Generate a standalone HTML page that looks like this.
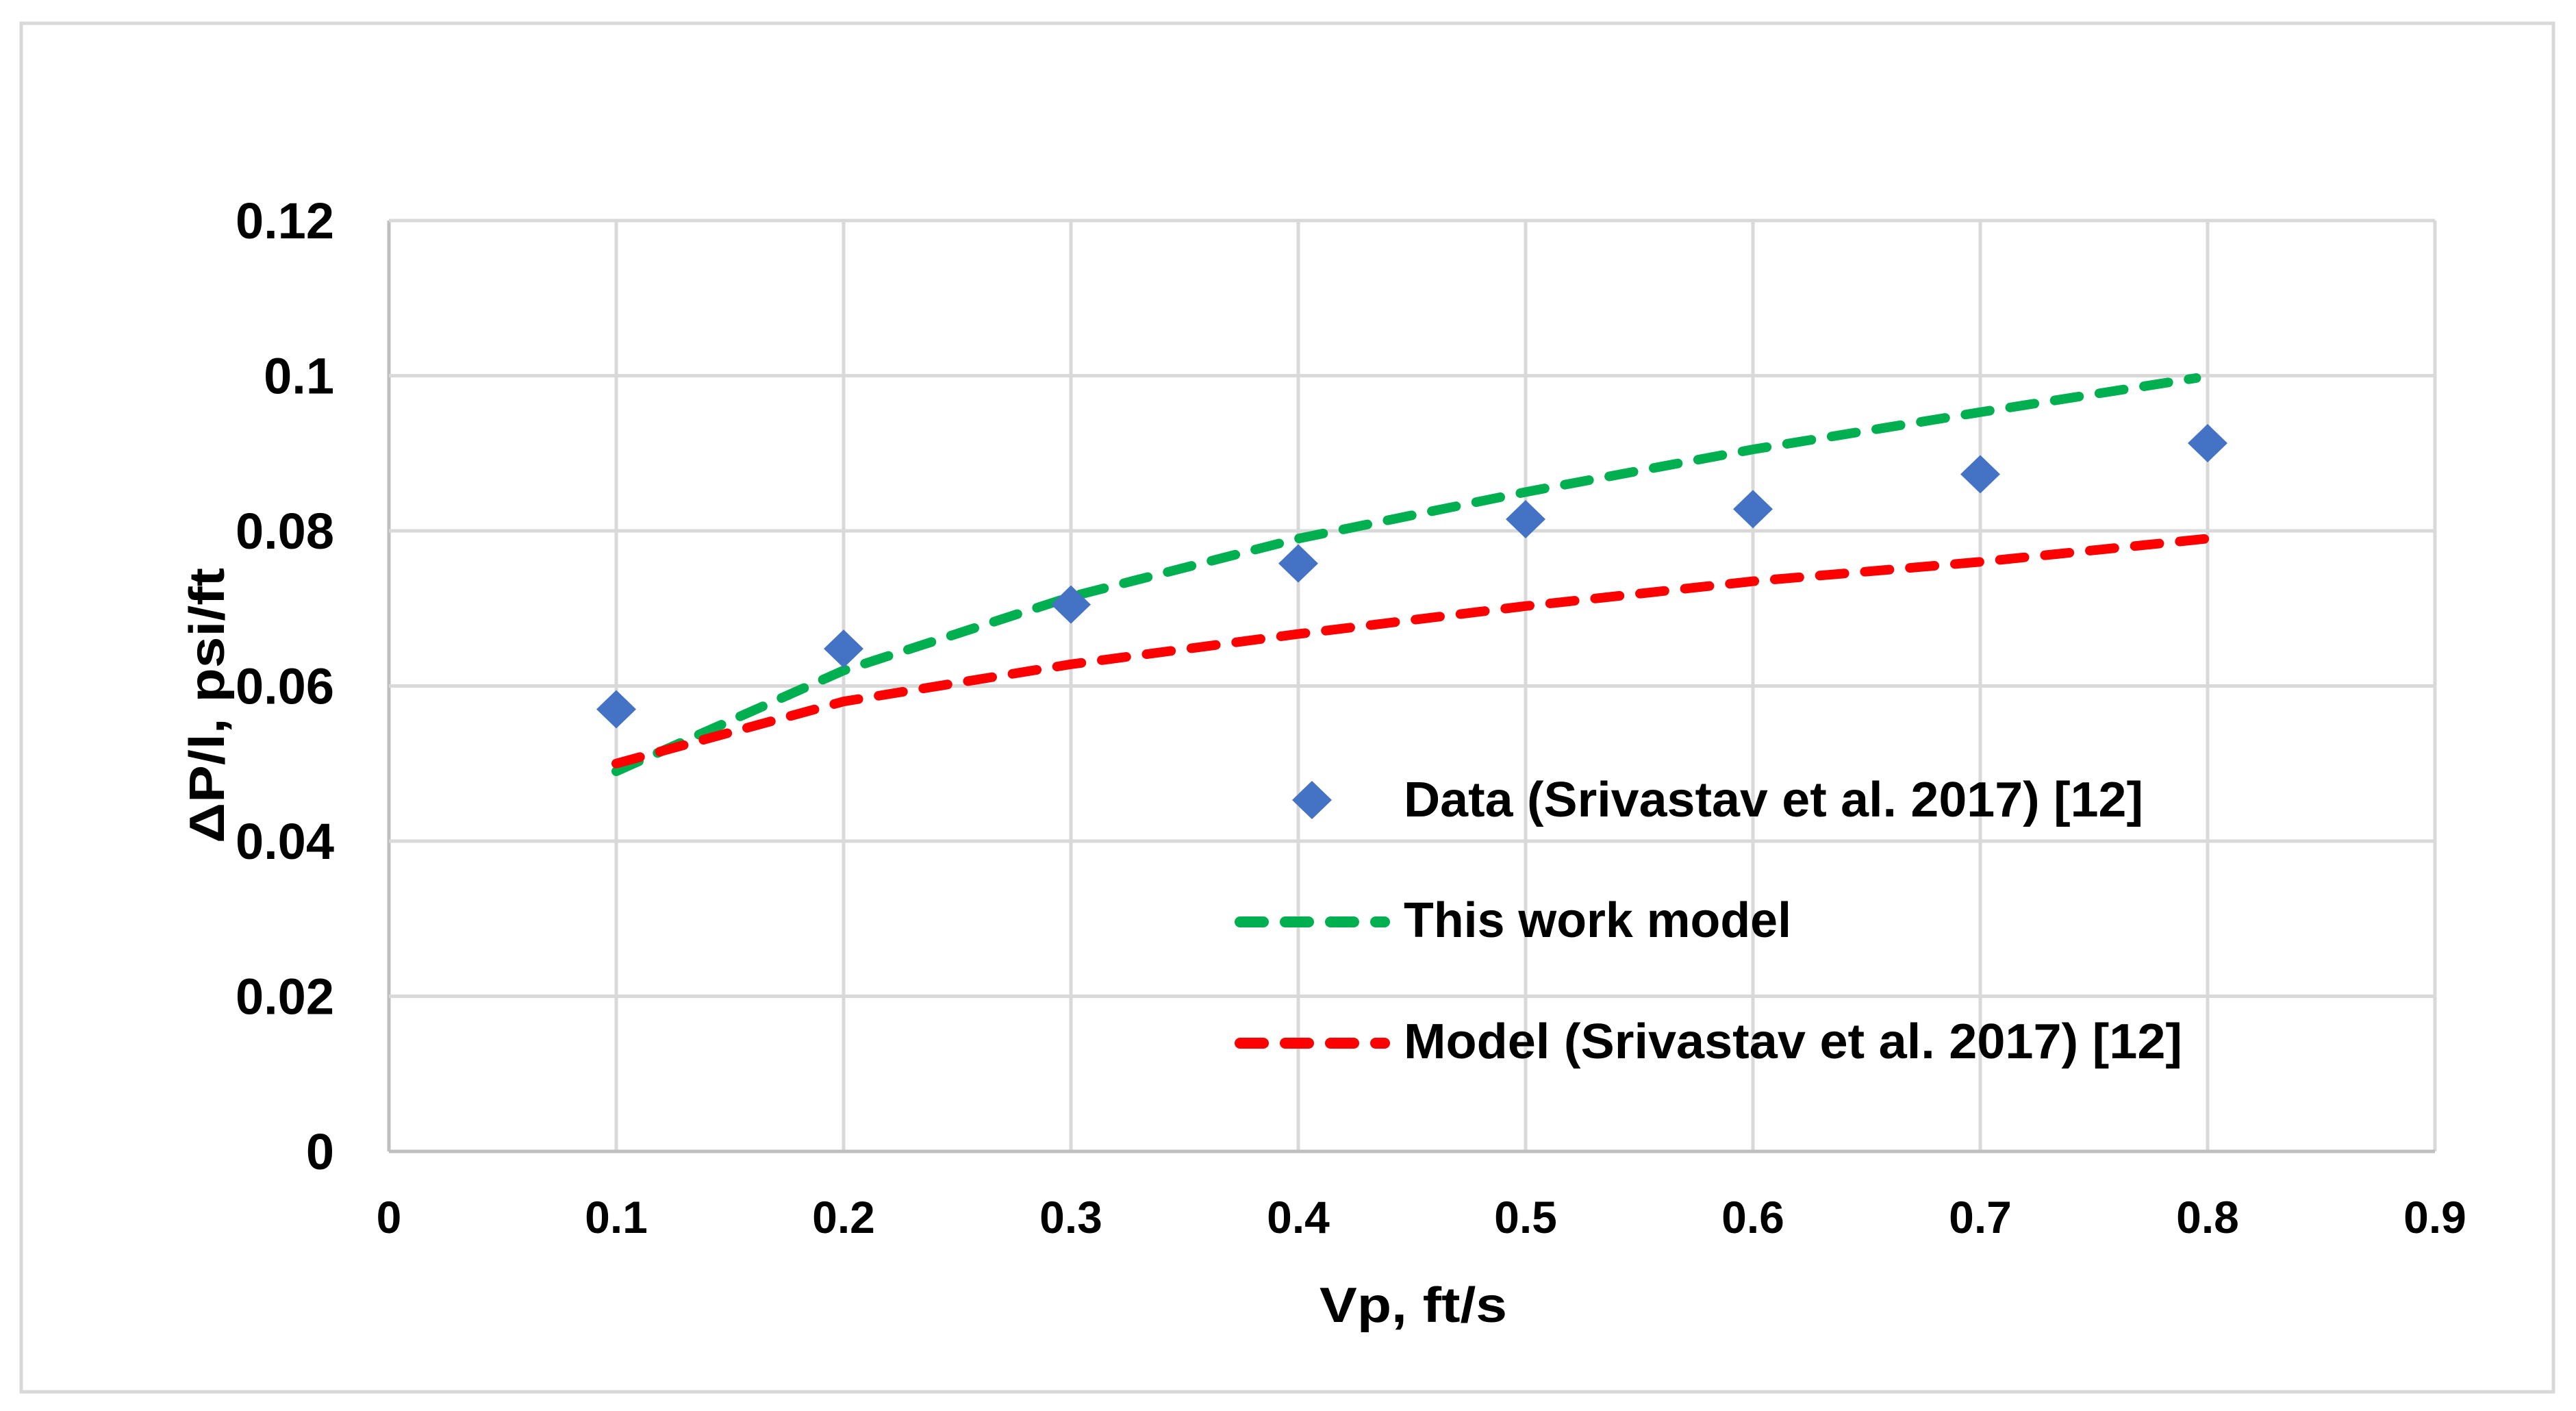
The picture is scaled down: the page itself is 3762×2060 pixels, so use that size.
<!DOCTYPE html>
<html><head><meta charset="utf-8"><style>
html,body{margin:0;padding:0;background:#fff;}
svg{display:block;}
text{font-family:"Liberation Sans",sans-serif;font-weight:bold;fill:#000;}
</style></head><body>
<svg id="chart" width="3762" height="2060" viewBox="0 0 3762 2060" xmlns="http://www.w3.org/2000/svg">
<rect x="31" y="34" width="3698" height="1998" fill="#fff" stroke="#d9d9d9" stroke-width="5"/>
<g id="grid"></g>
<g id="axes"></g>
<g id="series"></g>
<text x="2064" y="1930" font-size="72" text-anchor="middle" textLength="274" lengthAdjust="spacingAndGlyphs">Vp, ft/s</text>
<text transform="translate(327,1030) rotate(-90)" font-size="72" text-anchor="middle" textLength="402" lengthAdjust="spacingAndGlyphs">ΔP/l, psi/ft</text>
<g>
<polygon points="1916,1140 1945,1168 1916,1196 1887,1168" fill="#4472c4"/>
<line x1="1811" y1="1346" x2="2022" y2="1346" stroke="#00b050" stroke-width="16" stroke-linecap="round" stroke-dasharray="34 32"/>
<line x1="1811" y1="1523" x2="2022" y2="1523" stroke="#ff0000" stroke-width="16" stroke-linecap="round" stroke-dasharray="34 32"/>
<text x="2050" y="1192" font-size="72" textLength="1080" lengthAdjust="spacingAndGlyphs">Data (Srivastav et al. 2017) [12]</text>
<text x="2050" y="1368" font-size="72" textLength="566" lengthAdjust="spacingAndGlyphs">This work model</text>
<text x="2050" y="1545" font-size="72" textLength="1137" lengthAdjust="spacingAndGlyphs">Model (Srivastav et al. 2017) [12]</text>
</g>
</svg>
<script>
const xTicks = [0,0.1,0.2,0.3,0.4,0.5,0.6,0.7,0.8,0.9];
const yTicks = [0,0.02,0.04,0.06,0.08,0.1,0.12];
const xTickLabels = ["0","0.1","0.2","0.3","0.4","0.5","0.6","0.7","0.8","0.9"];
const yTickLabels = ["0","0.02","0.04","0.06","0.08","0.1","0.12"];
const dataX = [0.1,0.2,0.3,0.4,0.5,0.6,0.7,0.8];
const dataY = [0.057,0.0648,0.0705,0.0758,0.0815,0.0828,0.0873,0.0913];
const thisWorkX = [0.1,0.2,0.3,0.4,0.5,0.6,0.7,0.795];
const thisWorkY = [0.049,0.062,0.0715,0.079,0.085,0.0905,0.0953,0.0997];
const modelX = [0.1,0.2,0.3,0.4,0.5,0.6,0.7,0.8];
const modelY = [0.050,0.058,0.0628,0.0667,0.0703,0.0735,0.076,0.079];

const NS="http://www.w3.org/2000/svg";
const X0=568,X1=3556,Y0=1681,Y1=322;
function sx(v){return X0+(v-0)/(0.9-0)*(X1-X0);}
function sy(v){return Y0-(v-0)/(0.12-0)*(Y0-Y1);}
function mk(tag,attrs,parent){const e=document.createElementNS(NS,tag);for(const k in attrs)e.setAttribute(k,attrs[k]);parent.appendChild(e);return e;}
const grid=document.getElementById('grid'),axes=document.getElementById('axes'),series=document.getElementById('series');
xTicks.forEach((t,i)=>{
  const l=mk('line',{x1:sx(t),x2:sx(t),y1:Y1,y2:Y0,stroke:i===0?'#bfbfbf':'#d9d9d9','stroke-width':5},grid);
  
  
  const tx=mk('text',{x:sx(t),y:1800,'font-size':66,'text-anchor':'middle'},axes);
  tx.textContent=xTickLabels[i];
  
  
});
yTicks.forEach((t,i)=>{
  const l=mk('line',{x1:X0,x2:X1,y1:sy(t),y2:sy(t),stroke:i===0?'#bfbfbf':'#d9d9d9','stroke-width':5},grid);
  
  
  const tx=mk('text',{x:488,y:sy(t)+26,'font-size':74,'text-anchor':'end'},axes);
  tx.textContent=yTickLabels[i];
  
  
});
function pathFrom(xs,ys){return xs.map((x,i)=>(i?'L':'M')+sx(x)+','+sy(ys[i])).join(' ');}
const g=mk('path',{d:pathFrom(thisWorkX,thisWorkY),fill:'none',stroke:'#00b050','stroke-width':14,'stroke-linecap':'round','stroke-dasharray':'36 30'},series);


const r=mk('path',{d:pathFrom(modelX,modelY),fill:'none',stroke:'#ff0000','stroke-width':14,'stroke-linecap':'round','stroke-dasharray':'36 30'},series);


dataX.forEach((x,i)=>{
  const cx=sx(x),cy=sy(dataY[i]);
  const p=mk('polygon',{points:`${cx},${cy-28} ${cx+29},${cy} ${cx},${cy+28} ${cx-29},${cy}`,fill:'#4472c4'},series);
  
  
});
</script>
</body></html>
